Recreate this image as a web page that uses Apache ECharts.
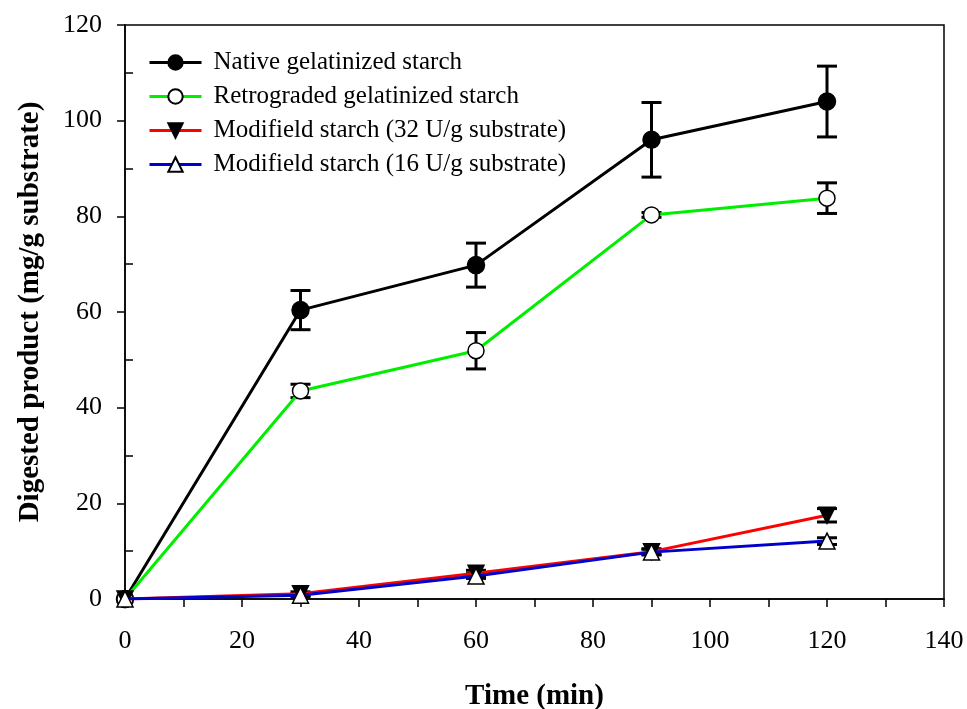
<!DOCTYPE html>
<html><head><meta charset="utf-8">
<script src="https://cdn.jsdelivr.net/npm/echarts@6/dist/echarts.min.js"></script>
<style>html,body{margin:0;padding:0;background:#fff}#c{width:967px;height:709px}</style>
</head><body><div id="c"></div>
<script>
const times = [0, 30, 60, 90, 120];
const nativeVals = [0, 60.4, 69.8, 96.0, 104.0];
const nativeErr = [0, 4.1, 4.6, 7.8, 7.4];
const retroVals = [0, 43.5, 51.9, 80.3, 83.8];
const retroErr = [0, 1.4, 3.8, 0.5, 3.2];
const mod32Vals = [0, 1.1, 5.4, 9.9, 17.5];
const mod32Err = [0, 0.4, 0.6, 0.6, 1.4];
const mod16Vals = [0, 0.8, 4.8, 9.8, 12.1];
const mod16Err = [0, 0.3, 0.5, 0.6, 0.7];
const seriesNames = ['Native gelatinized starch', 'Retrograded gelatinized starch', 'Modifield starch (32 U/g substrate)', 'Modifield starch (16 U/g substrate)'];
const xTicksMax = 140, yTicksMax = 120;

const FONT = 'Liberation Serif';
const chart = echarts.init(document.getElementById('c'));

function pts(vals){ return times.map((t,i)=>[t, vals[i]]); }
function errData(vals, errs){ return times.map((t,i)=>[t, vals[i]-errs[i], vals[i]+errs[i]]); }

function errSeries(vals, errs){
  return {
    type:'custom', silent:true, z:3,
    data: errData(vals, errs),
    encode:{x:0, y:[1,2]},
    renderItem(params, api){
      const x = api.value(0), lo = api.value(1), hi = api.value(2);
      if (hi - lo < 0.01) return null;
      const a = api.coord([x, hi]), b = api.coord([x, lo]);
      const w = 10;
      const st = {stroke:'#000', lineWidth:3};
      return {type:'group', children:[
        {type:'line', shape:{x1:a[0], y1:a[1], x2:b[0], y2:b[1]}, style:st},
        {type:'line', shape:{x1:a[0]-w, y1:a[1], x2:a[0]+w, y2:a[1]}, style:st},
        {type:'line', shape:{x1:b[0]-w, y1:b[1], x2:b[0]+w, y2:b[1]}, style:st}
      ]};
    }
  };
}

function lineSeries(name, vals, color, symbol, fill, size, z, rot){
  return {
    name, type:'line', data: pts(vals), z,
    symbol, symbolSize:size, symbolRotate:rot || 0, showAllSymbol:true,
    lineStyle:{color, width:3},
    itemStyle:{color:fill, borderColor:'#000', borderWidth:1.5},
    emphasis:{disabled:true}
  };
}

chart.setOption({
  animation:false,
  backgroundColor:'#fff',
  grid:{left:125, right:23, top:25, bottom:110, show:true, borderColor:'#000', borderWidth:1.5, backgroundColor:'transparent', outerBoundsMode:'none', containLabel:false},
  legend:{
    orient:'vertical', left:143, top:45, itemWidth:52, itemHeight:18, itemGap:9,
    data: seriesNames,
    lineStyle:{width:3},
    textStyle:{fontFamily:FONT, fontSize:25, color:'#000', padding:[0,0,0,7]}
  },
  xAxis:{
    type:'value', min:0, max:xTicksMax, interval:20,
    name:'Time (min)', nameLocation:'middle', nameGap:83,
    nameTextStyle:{fontFamily:FONT, fontSize:29, fontWeight:'bold', color:'#000'},
    axisLine:{lineStyle:{color:'#000', width:1.5}},
    axisTick:{length:8, lineStyle:{color:'#000', width:1.5}},
    minorTick:{show:true, splitNumber:2, length:8, lineStyle:{color:'#000', width:1.5}},
    axisLabel:{fontFamily:FONT, fontSize:26, color:'#000', margin:29},
    splitLine:{show:false}
  },
  yAxis:{
    type:'value', min:0, max:yTicksMax, interval:20,
    name:'Digested product (mg/g substrate)', nameLocation:'middle', nameGap:80,
    nameTextStyle:{fontFamily:FONT, fontSize:29, fontWeight:'bold', color:'#000'},
    axisLine:{lineStyle:{color:'#000', width:1.5}},
    axisTick:{length:8, lineStyle:{color:'#000', width:1.5}},
    minorTick:{show:true, splitNumber:2, length:-8, lineStyle:{color:'#000', width:1.5}},
    axisLabel:{fontFamily:FONT, fontSize:26, color:'#000', margin:23, padding:[7,0,0,0]},
    splitLine:{show:false}
  },
  series:[
    lineSeries(seriesNames[0], nativeVals, '#000000', 'circle', '#000000', 17, 5),
    lineSeries(seriesNames[1], retroVals, '#00ee00', 'circle', '#ffffff', 16, 6),
    lineSeries(seriesNames[2], mod32Vals, '#ff0000', 'triangle', '#000000', 16, 7, 180),
    lineSeries(seriesNames[3], mod16Vals, '#0000cc', 'triangle', '#ffffff', 16, 8),
    errSeries(nativeVals, nativeErr),
    errSeries(retroVals, retroErr),
    errSeries(mod32Vals, mod32Err),
    errSeries(mod16Vals, mod16Err)
  ]
});
</script>
</body></html>
